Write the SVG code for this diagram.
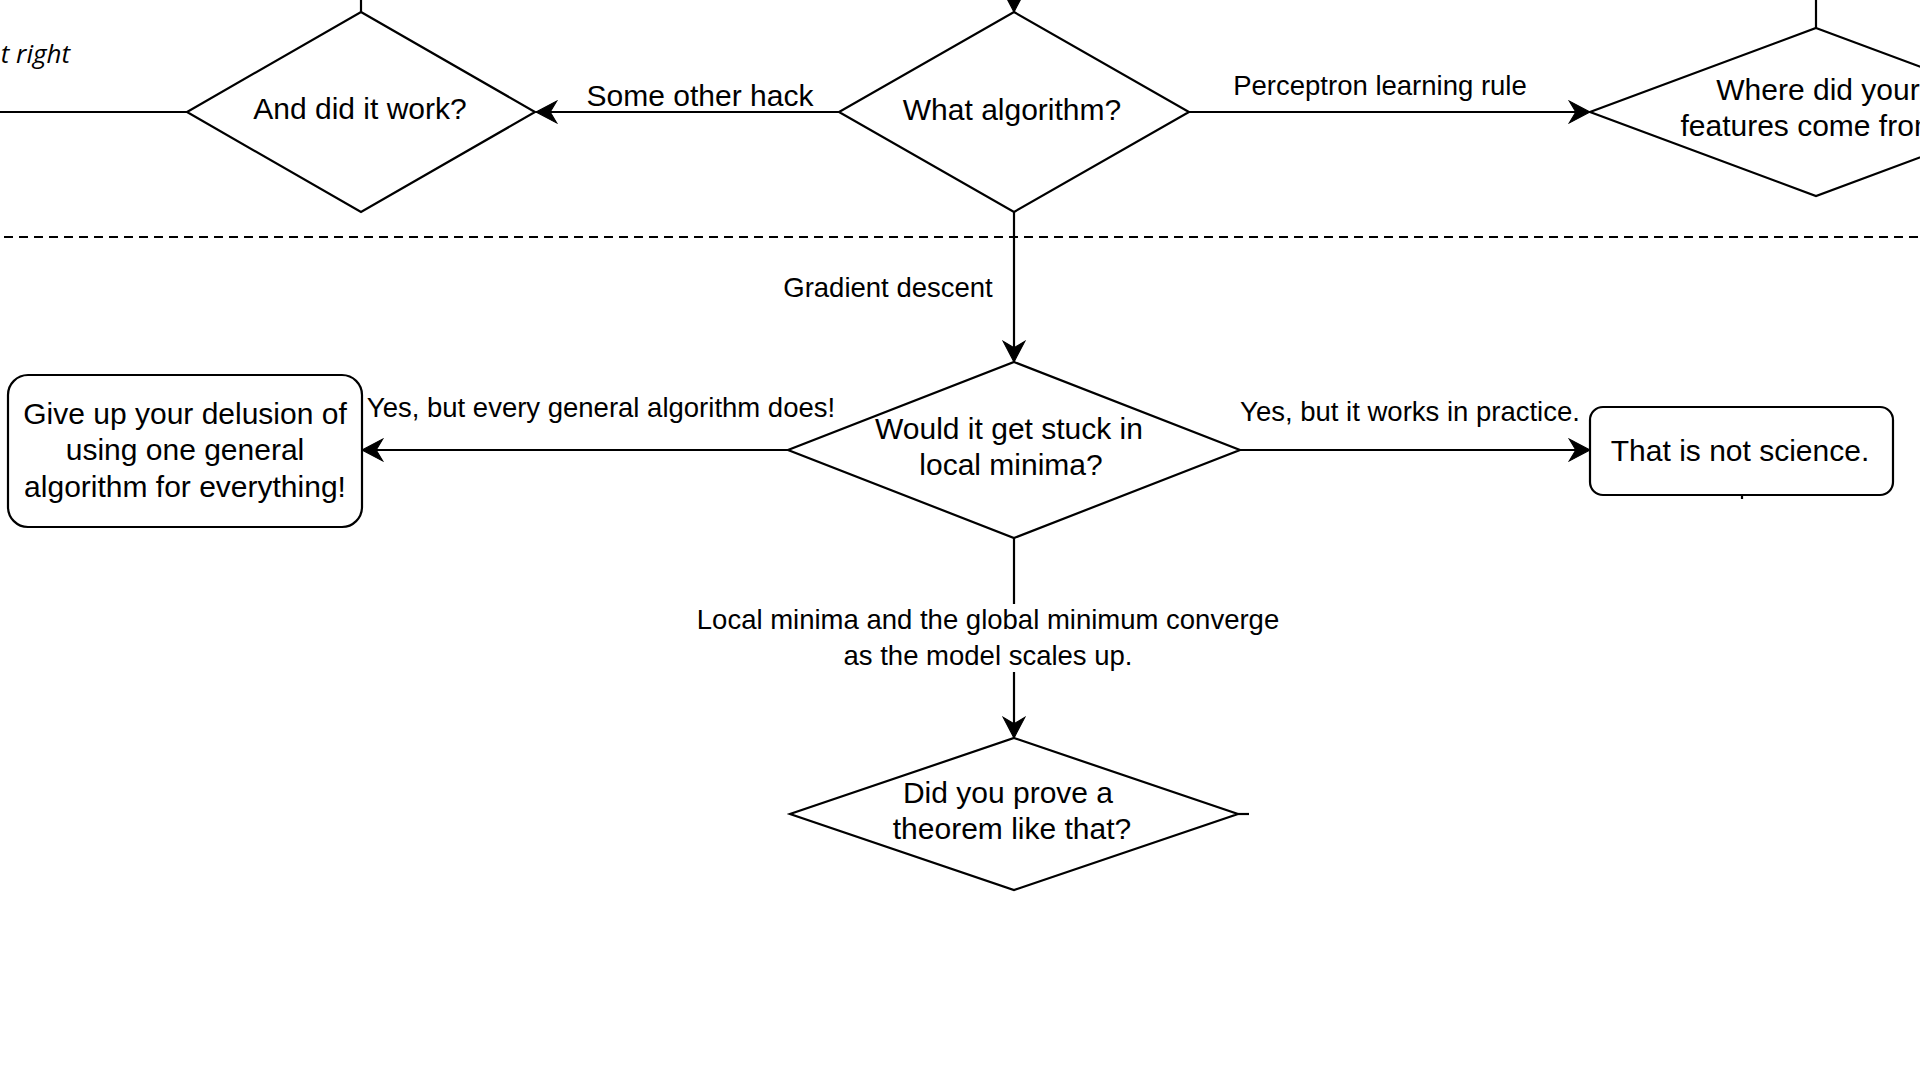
<svg xmlns="http://www.w3.org/2000/svg" width="1920" height="1080" viewBox="0 0 1920 1080">
<style>
.shape{fill:#fff;stroke:#000;stroke-width:2.2}
.edge{fill:none;stroke:#000;stroke-width:2.2}
.node{font-family:"Liberation Sans",Arial,sans-serif;font-size:30px;fill:#000;text-anchor:middle}
.lbl{font-family:"Liberation Sans",Arial,sans-serif;font-size:27.5px;fill:#000;text-anchor:middle}
.big{font-size:30px}
.it{font-family:"Open Sans","DejaVu Sans",sans-serif;font-style:italic;font-size:26px;fill:#000;text-anchor:end}
</style>
<defs>
<marker id="arr" markerUnits="userSpaceOnUse" markerWidth="24" markerHeight="24" viewBox="-20 -11 22 22" refX="0" refY="0" orient="auto">
<path d="M0,0 L-19,-10 L-13,0 L-19,10 Z" fill="#000" stroke="#000" stroke-width="1"/>
</marker>
</defs>
<rect width="1920" height="1080" fill="#fff"/>

<g id="separator">
<line x1="4" y1="237" x2="1920" y2="237" stroke="#000" stroke-width="2.2" stroke-dasharray="9 6"/>
</g>

<g id="connectors">
<line class="edge" x1="361" y1="0" x2="361" y2="12"/>
<line class="edge" x1="187" y1="112" x2="0" y2="112"/>
<line class="edge" x1="1816" y1="0" x2="1816" y2="28"/>
<line class="edge" x1="1014" y1="-20" x2="1014" y2="12" marker-end="url(#arr)"/>
<line class="edge" x1="839" y1="112" x2="536" y2="112" marker-end="url(#arr)"/>
<line class="edge" x1="1189" y1="112" x2="1590" y2="112" marker-end="url(#arr)"/>
<line class="edge" x1="1014" y1="212" x2="1014" y2="362" marker-end="url(#arr)"/>
<line class="edge" x1="788" y1="450" x2="362" y2="450" marker-end="url(#arr)"/>
<line class="edge" x1="1240" y1="450" x2="1590" y2="450" marker-end="url(#arr)"/>
<line class="edge" x1="1014" y1="538" x2="1014" y2="738" marker-end="url(#arr)"/>
<line class="edge" x1="1238" y1="814" x2="1249" y2="814"/>
<line class="edge" x1="1742" y1="495" x2="1742" y2="499"/>
<text class="it" x="70" y="63">t right</text>
<text class="lbl big" x="700" y="106">Some other hack</text>
<text class="lbl" x="1380" y="95">Perceptron learning rule</text>
<text class="lbl" x="888" y="297">Gradient descent</text>
<text class="lbl" x="601" y="417">Yes, but every general algorithm does!</text>
<text class="lbl" x="1410" y="421">Yes, but it works in practice.</text>
<rect x="694" y="604" width="590" height="68" fill="#fff"/>
<text class="lbl" x="988" y="629">Local minima and the global minimum converge</text>
<text class="lbl" x="988" y="665">as the model scales up.</text>
</g>

<g id="and-did-it-work">
<polygon class="shape" points="361,12 535,112 361,212 187,112"/>
<text class="node" x="360" y="119">And did it work?</text>
</g>

<g id="what-algorithm">
<polygon class="shape" points="1014,12 1189,112 1014,212 839,112"/>
<text class="node" x="1012" y="120">What algorithm?</text>
</g>

<g id="where-features">
<polygon class="shape" points="1816,28 2042,112 1816,196 1590,112"/>
<text class="node" x="1818" y="100">Where did your</text>
<text class="node" x="1818" y="136">features come from?</text>
</g>

<g id="stuck-local-minima">
<polygon class="shape" points="1014,362 1240,450 1014,538 788,450"/>
<text class="node" x="1009" y="439">Would it get stuck in</text>
<text class="node" x="1011" y="475">local minima?</text>
</g>

<g id="give-up">
<rect class="shape" x="8" y="375" width="354" height="152" rx="20" ry="20"/>
<text class="node" x="185" y="424">Give up your delusion of</text>
<text class="node" x="185" y="460">using one general</text>
<text class="node" x="185" y="497">algorithm for everything!</text>
</g>

<g id="not-science">
<rect class="shape" x="1590" y="407" width="303" height="88" rx="13" ry="13"/>
<text class="node" x="1740" y="461">That is not science.</text>
</g>

<g id="prove-theorem">
<polygon class="shape" points="1014,738 1238,814 1014,890 790,814"/>
<text class="node" x="1008" y="803">Did you prove a</text>
<text class="node" x="1012" y="839">theorem like that?</text>
</g>
</svg>
